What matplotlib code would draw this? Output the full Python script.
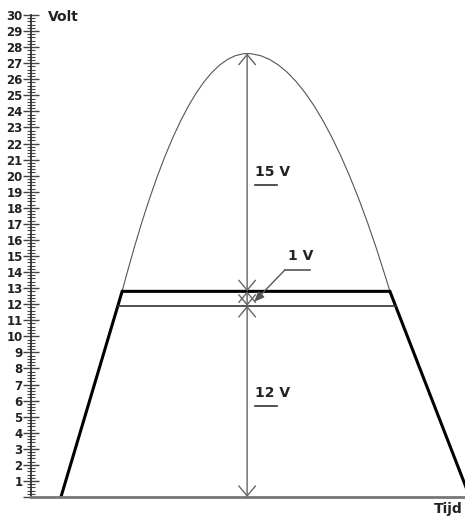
import matplotlib
matplotlib.use('Agg')
import matplotlib.pyplot as plt
from matplotlib.path import Path
from matplotlib.patches import PathPatch
from matplotlib.ticker import MultipleLocator

plt.rcParams['font.family'] = ['Liberation Sans Narrow', 'DejaVu Sans']

# Volt axis
volt_ticks = list(range(0, 31))
volt_labels = [''] + [str(v) for v in range(1, 31)]

# levels (volt)
thin_level = 11.9     # 12 V line
thick_level = 12.8    # 13 V line
peak_level = 27.6     # top of the curve

# time positions (arbitrary units)
trap_x = [0.69, 2.10, 8.27, 10.11]
trap_y = [0, thick_level, thick_level, 0]
thin_x = [2.0, 8.4]
peak_x = 4.98
arrow_x = 4.98

fig = plt.figure(figsize=(4.65, 5.21), dpi=100)
W, H = 465, 521
ax = fig.add_axes([31 / W, (H - 497) / H, (W - 31) / W, 482 / H])
ax.set_xlim(0, 10)
ax.set_ylim(0, 30)

# axis look
for s in ['top', 'right']:
    ax.spines[s].set_visible(False)
ax.spines['left'].set_color('#333333')
ax.spines['left'].set_linewidth(1.3)
ax.spines['bottom'].set_color('#777777')
ax.spines['bottom'].set_linewidth(2)
ax.set_xticks([])
ax.set_yticks(volt_ticks)
ax.set_yticklabels(volt_labels, fontsize=8.5, fontweight='bold', color='#222222')
ax.yaxis.set_minor_locator(MultipleLocator(0.2))
ax.tick_params(axis='y', which='major', direction='inout', length=12, width=1,
               color='#444444', pad=0)
ax.tick_params(axis='y', which='minor', direction='inout', length=6, width=0.8,
               color='#444444')

# trapezoid (thick) and thin 12 V line
ax.plot(trap_x, trap_y, color='black', lw=2.2, solid_joinstyle='miter')
ax.plot(thin_x, [thin_level, thin_level], color='#333333', lw=1.2)

# parabola as two quadratic curves meeting at the peak
verts = [(trap_x[1], thick_level),
         ((trap_x[1] + peak_x) / 2, peak_level), (peak_x, peak_level),
         ((peak_x + trap_x[2]) / 2, peak_level), (trap_x[2], thick_level)]
codes = [Path.MOVETO, Path.CURVE3, Path.CURVE3, Path.CURVE3, Path.CURVE3]
ax.add_patch(PathPatch(Path(verts, codes), fill=False, edgecolor='#555555', lw=0.8))

# measuring arrows
style = '<->,head_length=0.72,head_width=0.6'
for lo, hi in [(0, thin_level), (thin_level, thick_level), (thick_level, peak_level)]:
    ax.annotate('', xy=(arrow_x, hi), xytext=(arrow_x, lo),
                arrowprops=dict(arrowstyle=style, mutation_scale=10, lw=1,
                                color='#666666', shrinkA=0, shrinkB=0))

# labels with underline
txt = dict(fontsize=10, fontweight='bold', color='#222222')
ax.text(5.16, 20.2, '15 V', va='center', ha='left', **txt)
ax.plot([5.16, 5.67], [19.4, 19.4], color='#333333', lw=1.2)
ax.text(5.16, 6.45, '12 V', va='center', ha='left', **txt)
ax.plot([5.16, 5.67], [5.66, 5.66], color='#333333', lw=1.2)
ax.text(5.92, 15.0, '1 V', va='center', ha='left', **txt)
ax.annotate('', xy=(5.14, 12.15), xytext=(5.85, 14.13),
            arrowprops=dict(arrowstyle='-|>,head_length=0.6,head_width=0.25',
                            mutation_scale=10, lw=1, color='#555555',
                            shrinkA=0, shrinkB=0))
ax.plot([5.85, 6.43], [14.13, 14.13], color='#555555', lw=1.2)

# axis titles
fig.text(48 / W, 1 - 17 / H, 'Volt', ha='left', va='center', **txt)
fig.text(463 / W, 1 - 509 / H, 'Tijd', ha='right', va='center', **txt)

fig.savefig('out.png', dpi=100)
